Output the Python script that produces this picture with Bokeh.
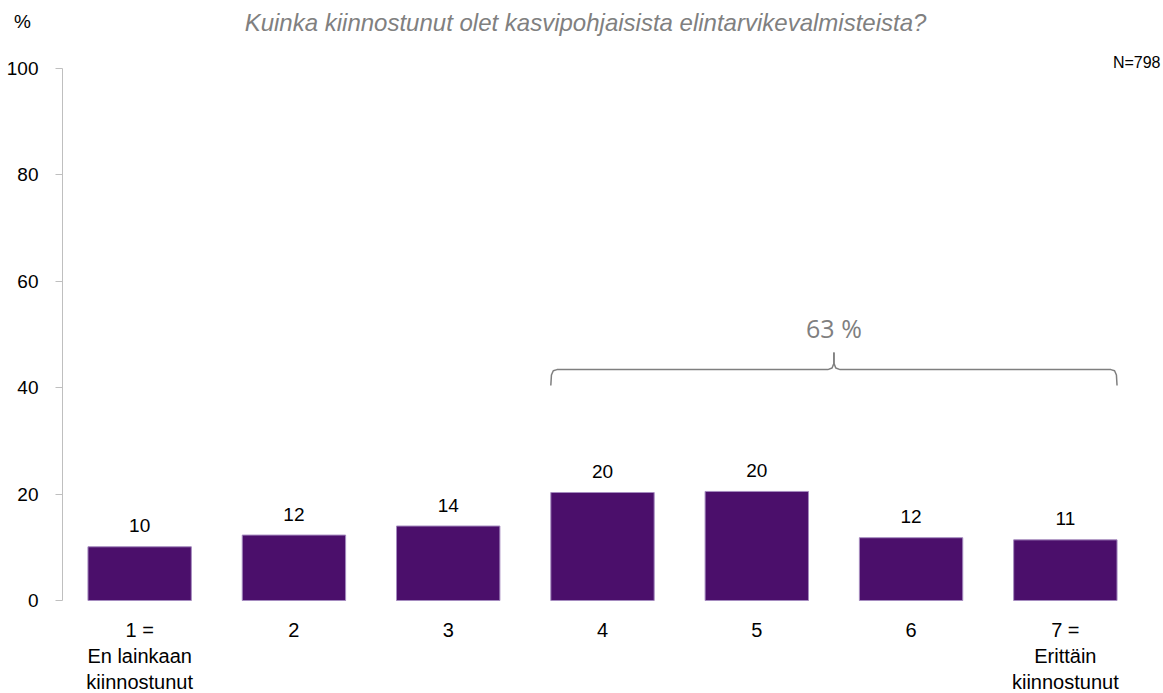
from bokeh.plotting import figure
from bokeh.models import Range1d, FixedTicker, Label, ColumnDataSource
from bokeh.core.properties import value
from bokeh.embed import file_html
from bokeh.resources import INLINE

# ---- data ----
categories = ["1 =\nEn lainkaan\nkiinnostunut", "2", "3", "4", "5", "6", "7 =\nErittäin\nkiinnostunut"]
positions = [1, 2, 3, 4, 5, 6, 7]
percent = [10.1, 12.3, 14.0, 20.3, 20.5, 11.8, 11.4]
value_labels = ["10", "12", "14", "20", "20", "12", "11"]
y_ticks = [0, 20, 40, 60, 80, 100]
subtitle = "Kuinka kiinnostunut olet kasvipohjaisista elintarvikevalmisteista?"
n_text = "N=798"
brace_from, brace_to = 4, 7

FONT = "Liberation Sans"
BAR_W = 0.67

# layout geometry (pixels)
W, H = 1163, 693
PLOT_L, PLOT_R, PLOT_T, PLOT_B = 62, 1142, 68, 600
FRAME_B = 612                         # frame extends a little below zero
xs = (PLOT_R - PLOT_L) / 7.0          # px per category
ys = (PLOT_B - PLOT_T) / 100.0        # px per percent
x0 = 0.5 - PLOT_L / xs
x1 = 7.5 + (W - PLOT_R) / xs
y0 = -(FRAME_B - PLOT_B) / ys
y1 = 100 + PLOT_T / ys

def dx(px):
    return 0.5 + (px - PLOT_L) / xs

def dy(py):
    return (PLOT_B - py) / ys

p = figure(frame_width=W, frame_height=FRAME_B,
           min_border_left=0, min_border_right=0,
           min_border_top=0, min_border_bottom=H - FRAME_B,
           x_range=Range1d(x0, x1), y_range=Range1d(y0, y1),
           output_backend="svg", toolbar_location=None)
p.outline_line_color = None
p.xgrid.grid_line_color = None
p.ygrid.grid_line_color = None

src = ColumnDataSource(dict(x=positions, top=percent, lab=value_labels))
p.vbar(x="x", top="top", width=BAR_W, bottom=0, source=src,
       fill_color="#4b0f6b", line_color="#a58bbf", line_width=1)
p.text(x="x", y="top", text="lab", source=src, text_align="center",
       text_baseline="middle", y_offset=-21, text_font=value(FONT),
       text_font_size="19px", text_color="#000000")

# y axis (drawn at the left edge of the category area)
ya = p.yaxis[0]
ya.fixed_location = 0.5
ya.bounds = (0, 100)
ya.ticker = FixedTicker(ticks=y_ticks)
ya.axis_line_color = "#bfbfbf"
ya.major_tick_line_color = "#bfbfbf"
ya.major_tick_out = 7
ya.major_tick_in = 0
ya.minor_tick_line_color = None
ya.major_label_standoff = 17
ya.major_label_text_font = FONT
ya.major_label_text_font_size = "19px"
ya.major_label_text_color = "#000000"

# x axis
xa = p.xaxis[0]
xa.ticker = FixedTicker(ticks=positions)
xa.major_label_overrides = {pos: lab for pos, lab in zip(positions, categories)}
xa.axis_line_color = None
xa.major_tick_line_color = None
xa.minor_tick_line_color = None
xa.major_tick_out = 0
xa.major_tick_in = 0
xa.major_label_standoff = 6
xa.major_label_text_font = FONT
xa.major_label_text_font_size = "20px"
xa.major_label_text_color = "#000000"
xa.major_label_text_line_height = 1.19

# brace over categories 4..7
xl = brace_from - BAR_W / 2
xr = brace_to + BAR_W / 2
xm = (xl + xr) / 2
yh, yb, yp = 43.4, 40.4, 46.6
d = 0.04
bx = [xl, xl + d * 0.1, xl + d * 0.4, xl + d, xm - d, xm - d * 0.3, xm,
      xm, xm + d * 0.3, xm + d, xr - d, xr - d * 0.4, xr - d * 0.1, xr]
by = [yb, yh - 1.0, yh - 0.2, yh, yh, yh + 0.3, yh + 1.2,
      yh + 1.2, yh + 0.3, yh, yh, yh - 0.2, yh - 1.0, yb]
p.line(bx[:7] + [xm], by[:7] + [yp], line_color="#7f7f7f", line_width=1.5)
p.line([xm] + bx[7:], [yp] + by[7:], line_color="#7f7f7f", line_width=1.5)
total = sum(int(v) for v in value_labels[brace_from - 1:brace_to])
p.add_layout(Label(x=xm, y=51.2, text=f"{total} %", text_align="center",
                   text_baseline="middle", text_font="Open Sans",
                   text_font_size="25px", text_color="#7f7f7f"))

# header texts
p.add_layout(Label(x=dx(585), y=dy(22), text=subtitle, text_align="center",
                   text_baseline="middle", text_font=FONT,
                   text_font_style="italic", text_font_size="24px",
                   text_color="#808080"))
p.add_layout(Label(x=dx(22), y=dy(21), text="%", text_align="center",
                   text_baseline="middle", text_font=FONT,
                   text_font_size="19px", text_color="#000000"))
p.add_layout(Label(x=dx(1160), y=dy(62), text=n_text, text_align="right",
                   text_baseline="middle", text_font=FONT,
                   text_font_size="16px", text_color="#000000"))

open("out.html", "w").write(file_html(p, INLINE))
